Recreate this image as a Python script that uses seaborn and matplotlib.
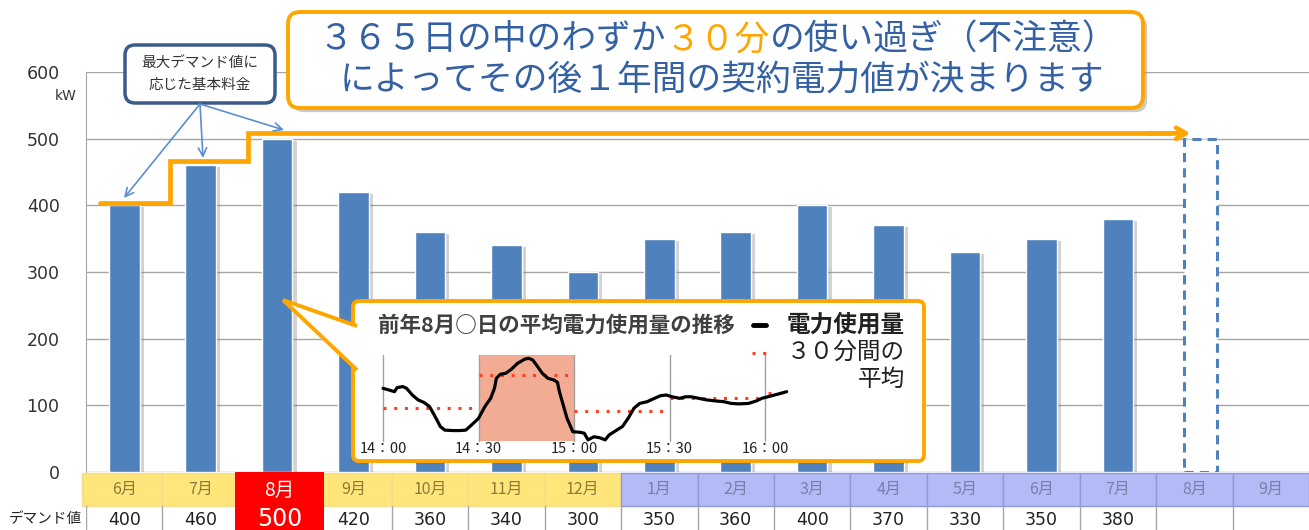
import numpy as np
import pandas as pd
import matplotlib
matplotlib.use('Agg')
import matplotlib.pyplot as plt
import matplotlib.patheffects as pe
from matplotlib.patches import FancyBboxPatch, Polygon, Rectangle
import seaborn as sns

# 月別デマンド値 (kW)
months = ['6月', '7月', '8月', '9月', '10月', '11月', '12月', '1月', '2月', '3月',
          '4月', '5月', '6月', '7月', '8月', '9月']
demand = [400, 460, 500, 420, 360, 340, 300, 350, 360, 400, 370, 330, 350, 380]
next_idx = 14          # 翌年8月 (点線の枠)
next_contract = 500

# 前年8月○日 14:00〜16:07 の電力使用量 (14:00 からの経過分, kW)
curve_min = [0.0, 2.0, 3.6, 4.4, 6.2, 7.4, 9.2, 11.0, 12.8, 14.6, 16.4, 18.0, 19.4, 21.8,
             24.2, 26.0, 27.8, 30.0, 32.0, 33.8, 35.0, 35.6, 36.8, 38.6, 40.4, 42.2, 44.6,
             45.8, 47.0, 48.2, 50.0, 51.8, 53.6, 54.8, 55.4, 56.6, 57.8, 59.6, 62.0, 63.2,
             64.4, 66.2, 68.0, 69.8, 71.0, 73.4, 75.2, 77.0, 78.8, 80.6, 83.0, 84.8, 87.2,
             89.0, 90.8, 93.2, 95.0, 96.8, 99.2, 101.6, 104.6, 107.0, 109.4, 111.8, 114.8,
             117.2, 119.0, 121.4, 123.8, 126.8]
curve_kw = [440, 432, 425, 443, 448, 440, 410, 388, 377, 358, 312, 268, 252, 250,
            250, 252, 275, 305, 358, 395, 440, 485, 503, 508, 527, 552, 572,
            575, 568, 545, 508, 485, 478, 467, 425, 365, 305, 245, 242, 238,
            208, 222, 218, 208, 230, 252, 268, 305, 350, 372, 380, 392, 407,
            410, 402, 395, 402, 402, 395, 388, 383, 380, 372, 370, 372,
            383, 395, 404, 413, 425]
# 30分間の平均
avg_start = [0, 30, 60, 90, 121]
avg_end = [30, 60, 90, 120, 127]
avg_kw = [353, 500, 338, 395, 418]
inset_ticks = [0, 30, 60, 90, 120]
inset_labels = ['14：00', '14：30', '15：00', '15：30', '16：00']

BLUE = '#4F81BD'
ORANGE = '#FFA500'
YELLOW = '#FFE57A'
LAVENDER = '#B3BBF7'

sns.set_style('white')
plt.rcParams['font.family'] = ['Noto Sans CJK JP', 'DejaVu Sans']

W, H = 1309, 530
fig = plt.figure(figsize=(W / 100, H / 100), dpi=100)


def box(x0, y0, x1, y1):
    # ピクセル座標 (左上原点) -> figure 座標
    return [x0 / W, 1 - y1 / H, (x1 - x0) / W, (y1 - y0) / H]


# ---- 棒グラフ本体 ----
ax = fig.add_axes(box(86, 72, 1309, 472))
ax.set_zorder(1)
df = pd.DataFrame({'pos': np.arange(len(demand)), 'kw': demand})
sns.barplot(data=df, x='pos', y='kw', native_scale=True, width=0.4, color=BLUE,
            saturation=1, ax=ax, zorder=3)
for p in ax.patches:
    p.set_path_effects([pe.SimplePatchShadow(offset=(3, -1.5), shadow_rgbFace='#808080', alpha=0.35),
                        pe.Normal()])
ax.bar(next_idx + 0.08, next_contract, width=0.42, facecolor='white', edgecolor=BLUE,
       linestyle=(0, (3, 2)), linewidth=2.2, zorder=3)

ax.set_xlim(-0.5, 15.5)
ax.set_ylim(0, 600)
ax.set_yticks(range(0, 601, 100))
ax.set_xticks([])
ax.set_xlabel('')
ax.set_ylabel('')
ax.yaxis.grid(True, color='#A6A6A6', lw=1)
ax.set_axisbelow(True)
for s in ['top', 'right', 'bottom']:
    ax.spines[s].set_visible(False)
ax.spines['left'].set_color('#A6A6A6')
ax.tick_params(axis='y', length=0, pad=19, labelsize=12.5, labelcolor='#333333')
for lab in ax.get_yticklabels():
    lab.set_fontfamily('DejaVu Sans')

# 契約電力の階段線
levels = np.maximum.accumulate(demand[:3])
step_x = [-0.32, 0.6, 0.6, 1.62, 1.62, 13.7]
step_y = [levels[0] + 4, levels[0] + 4, levels[1] + 6, levels[1] + 6, levels[2] + 8, levels[2] + 8]
ax.plot(step_x, step_y, color=ORANGE, lw=3.4, zorder=4, solid_joinstyle='miter', clip_on=False)
ax.annotate('', xy=(13.95, levels[2] + 8), xytext=(13.4, levels[2] + 8),
            arrowprops=dict(arrowstyle='->,head_length=0.7,head_width=0.4', color=ORANGE, lw=3.4,
                            shrinkA=0, shrinkB=0), zorder=4)

# ---- 装飾用 (ピクセル座標) ----
deco = fig.add_axes([0, 0, 1, 1])
deco.set_xlim(0, W)
deco.set_ylim(H, 0)
deco.axis('off')
deco.set_zorder(2)
deco.patch.set_alpha(0)

shadow = [pe.SimplePatchShadow(offset=(3, -3), shadow_rgbFace='#999999', alpha=0.5), pe.Normal()]

# タイトル枠
deco.add_patch(FancyBboxPatch((288, 12), 855, 96, boxstyle='round,pad=0,rounding_size=12',
                              fc='white', ec=ORANGE, lw=2.8, path_effects=shadow))
r = fig.canvas.get_renderer()
title_blue = '#3461A3'
parts = [('３６５日の中のわずか', title_blue), ('３０分', ORANGE), ('の使い過ぎ（不注意）', title_blue)]
texts = [deco.text(0, 40, s, color=c, fontsize=25, va='center', ha='left') for s, c in parts]
widths = [t.get_window_extent(renderer=r).width for t in texts]
x = 718 - sum(widths) / 2
for t, w in zip(texts, widths):
    t.set_x(x)
    x += w
deco.text(722, 80, 'によってその後１年間の契約電力値が決まります', color=title_blue, fontsize=25,
          va='center', ha='center')

# 最大デマンド値の吹き出し
deco.add_patch(FancyBboxPatch((125, 45), 150, 58, boxstyle='round,pad=0,rounding_size=10',
                              fc='white', ec='#3A5A8A', lw=2.5))
deco.text(200, 63, '最大デマンド値に', ha='center', va='center', fontsize=10.5, color='#333333')
deco.text(200, 85, '応じた基本料金', ha='center', va='center', fontsize=10.5, color='#333333')
for end in [(124, 198), (203, 158), (284, 130)]:
    deco.annotate('', xy=end, xytext=(200, 104),
                  arrowprops=dict(arrowstyle='->,head_length=0.6,head_width=0.3', color='#5B8FD0',
                                  lw=1.2, shrinkA=0, shrinkB=0))

# 挿入グラフの枠
deco.add_patch(FancyBboxPatch((353, 301), 571, 160, boxstyle='round,pad=0,rounding_size=6',
                              fc='white', ec=ORANGE, lw=2.8))
deco.add_patch(Polygon([(357, 326), (283, 300), (357, 370)], closed=False, fc='white', ec=ORANGE,
                       lw=2.8, joinstyle='miter'))
deco.text(378, 325, '前年8月○日の平均電力使用量の推移', ha='left', va='center', fontsize=15.5,
          fontweight='bold', color='#404040')
deco.plot([753, 766], [325, 325], color='black', lw=3.5)
deco.text(905, 325, '電力使用量', ha='right', va='center', fontsize=17, fontweight='bold', color='#222222')
deco.plot([752, 770], [353, 353], color='#FF4020', ls=(0, (1, 2.5)), lw=2.2)
deco.text(905, 352, '３０分間の', ha='right', va='center', fontsize=17, color='#222222')
deco.text(905, 379, '平均', ha='right', va='center', fontsize=17, color='#222222')

deco.text(77, 96, 'kW', ha='right', va='center', fontsize=10, color='#333333', family='DejaVu Sans')
deco.text(45, 519, 'デマンド値', ha='center', va='center', fontsize=10.5, color='#222222')

# ---- 挿入グラフ ----
ins = fig.add_axes(box(370.3, 355, 790.5, 441))
ins.set_zorder(3)
ins.patch.set_alpha(0)
ins.axvspan(30, 60, color='#F2AC94', lw=0, zorder=0)
for t in inset_ticks:
    ins.axvline(t, color='#A0A0A0', lw=1, zorder=1)
ins.hlines(avg_kw, avg_start, avg_end, colors='#FF4020', linestyles=(0, (1, 2.5)), lw=2.2, zorder=2)
sns.lineplot(x=curve_min, y=curve_kw, color='black', lw=2.3, ax=ins, zorder=3)
for line in ins.lines:
    line.set_clip_on(False)
ins.set_xlim(-4, 128)
ins.set_ylim(203, 590)
ins.set_xticks(inset_ticks, inset_labels)
ins.set_yticks([])
ins.set_xlabel('')
ins.set_ylabel('')
for s in ins.spines.values():
    s.set_visible(False)
ins.tick_params(axis='x', length=0, pad=1, labelsize=10.5, labelcolor='#222222')

# ---- 下の表 ----
tab = fig.add_axes(box(86, 472, 1309, 530))
tab.set_zorder(1)
tab.set_xlim(-0.5, 15.5)
tab.set_ylim(0, 58)
tab.axis('off')
peak_idx = int(np.argmax(demand))
for i, m in enumerate(months):
    yellow = i < 7
    x0 = i - 0.5 - (0.05 if i == 0 else 0)
    w = 1 + (0.05 if i == 0 else 0)
    tab.add_patch(Rectangle((x0, 24), w, 33, fc=YELLOW if yellow else LAVENDER,
                            ec='#F3DC8A' if yellow else '#9098DA', lw=1, clip_on=False))
    if i == peak_idx:
        continue
    tab.text(i, 40.5, m, ha='center', va='center', fontsize=11.5,
             color='#8B7B3B' if yellow else '#7880A8')
for i in range(16):
    tab.plot([i - 0.5, i - 0.5], [0, 24], color='#A6A6A6', lw=1)
for i, v in enumerate(demand):
    if i == peak_idx:
        continue
    tab.text(i, 10, str(v), ha='center', va='center', fontsize=12.5, color='#222222',
             family='DejaVu Sans')
tab.add_patch(Rectangle((peak_idx - 0.55, 0), 1.17, 58.5, fc='#FF0000', lw=0, zorder=3, clip_on=False))
tab.text(peak_idx + 0.03, 40, months[peak_idx], ha='center', va='center', fontsize=14,
         color='white', zorder=4)
tab.text(peak_idx + 0.03, 11, str(demand[peak_idx]), ha='center', va='center', fontsize=17,
         color='white', zorder=4, family='DejaVu Sans')

fig.savefig('out.png', dpi=100)
